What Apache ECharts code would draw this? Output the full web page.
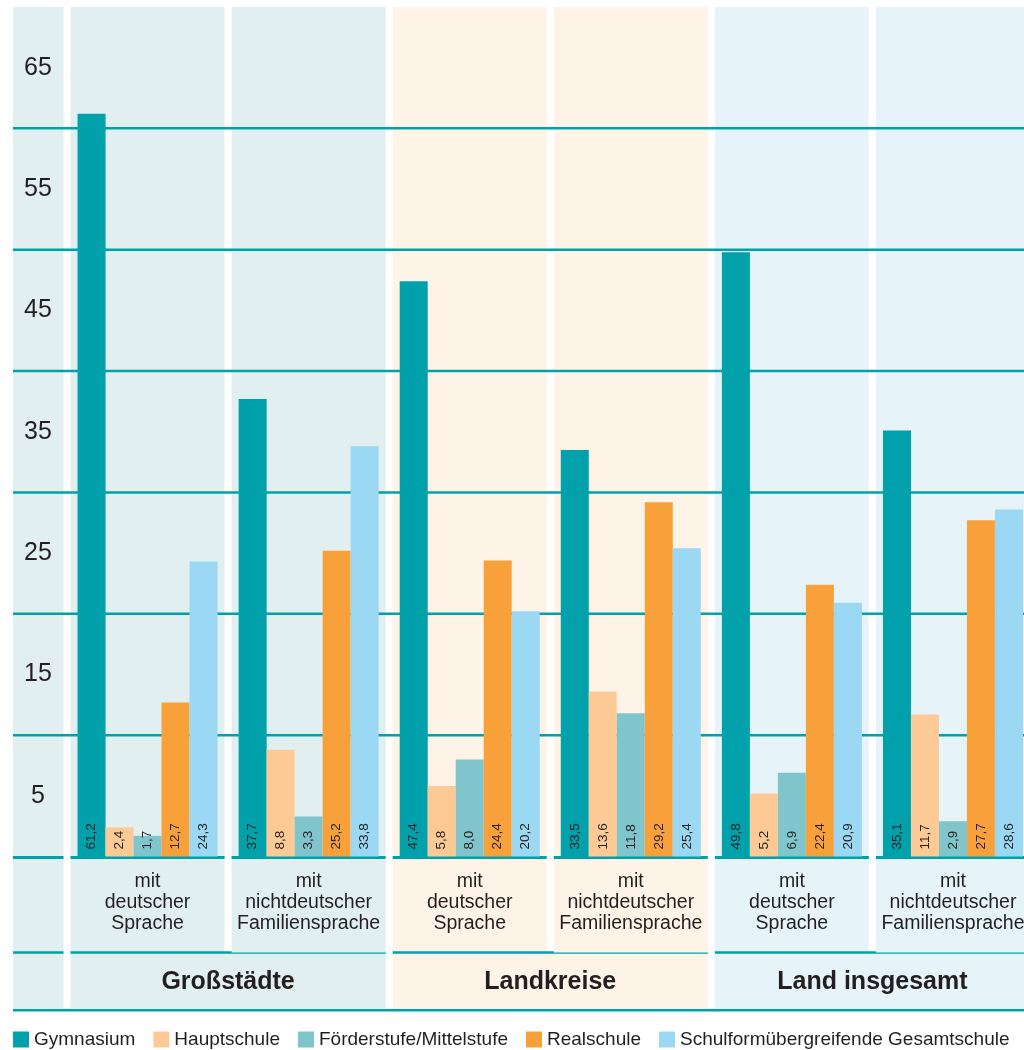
<!DOCTYPE html>
<html><head><meta charset="utf-8">
<script src="https://cdn.jsdelivr.net/npm/echarts/dist/echarts.min.js"></script>
<style>html,body{margin:0;padding:0;background:#fff}#c{width:1024px;height:1050px}</style>
</head><body><div id="c"></div>
<script>
// ---- data ----
const categories = [
  'mit\ndeutscher\nSprache', 'mit\nnichtdeutscher\nFamiliensprache',
  'mit\ndeutscher\nSprache', 'mit\nnichtdeutscher\nFamiliensprache',
  'mit\ndeutscher\nSprache', 'mit\nnichtdeutscher\nFamiliensprache'
];
const regions = ['Großstädte', 'Landkreise', 'Land insgesamt'];
const seriesNames = ['Gymnasium', 'Hauptschule', 'Förderstufe/Mittelstufe', 'Realschule', 'Schulformübergreifende Gesamtschule'];
const gymnasium    = [61.2, 37.7, 47.4, 33.5, 49.8, 35.1];
const hauptschule  = [2.4, 8.8, 5.8, 13.6, 5.2, 11.7];
const foerderstufe = [1.7, 3.3, 8.0, 11.8, 6.9, 2.9];
const realschule   = [12.7, 25.2, 24.4, 29.2, 22.4, 27.7];
const gesamtschule = [24.3, 33.8, 20.2, 25.4, 20.9, 28.6];
const yTickLabels = [5, 15, 25, 35, 45, 55, 65];
const gridValues = [10, 20, 30, 40, 50, 60];
const yMax = 70;

// ---- styles ----
const colors = ['#00a1aa', '#fdca96', '#80c5cc', '#f8a13b', '#9ad8f4'];
const regionColors = ['#e2eff0', '#fdf3e7', '#e6f4fa'];
const lineColor = '#00a2aa';
const textColor = '#231f20';
const FONT = "'Liberation Sans', Arial, Helvetica, sans-serif";
const GAP = 7;

function renderBg(params, api) {
  const i = api.value(0);
  const base = api.coord([i, 0]);
  const top = api.coord([i, yMax])[1];
  const band = api.size([1, 0])[0];
  const x0 = base[0] - band / 2 + GAP / 2;
  const w = band - GAP;
  const y0 = base[1];
  const catBottom = y0 + 96;
  const regBottom = y0 + 152.5;
  const children = [];
  const fill = regionColors[Math.floor(i / 2)];
  if (i === 0) {
    const lx = 13, lw = x0 - GAP - lx;
    children.push({type: 'rect', shape: {x: lx, y: top, width: lw, height: regBottom - top}, style: {fill: regionColors[0]}});
    children.push({type: 'rect', shape: {x: lx, y: y0 - 0.5, width: lw, height: 3}, style: {fill: lineColor}});
    children.push({type: 'rect', shape: {x: lx, y: catBottom - 1.2, width: lw, height: 2.4}, style: {fill: lineColor}});
    children.push({type: 'rect', shape: {x: lx, y: regBottom, width: api.getWidth() - lx, height: 2.4}, style: {fill: lineColor}});
  }
  children.push({type: 'rect', shape: {x: x0, y: top, width: w, height: catBottom - top}, style: {fill: fill}});
  children.push({type: 'rect', shape: {x: x0, y: y0 - 0.5, width: w, height: 3}, style: {fill: lineColor}});
  if (i % 2 === 0) {
    const rw = 2 * band - GAP;
    children.push({type: 'rect', shape: {x: x0, y: catBottom, width: rw, height: regBottom - catBottom}, style: {fill: fill}});
    children.push({type: 'rect', shape: {x: x0, y: catBottom - 1.2, width: rw, height: 2.4}, style: {fill: lineColor}});
    children.push({type: 'text', x: x0 + rw / 2, y: (catBottom + regBottom) / 2 + 1,
      style: {text: regions[i / 2], fill: textColor, font: 'bold 25px ' + FONT, align: 'center', verticalAlign: 'middle'}});
  }
  return {type: 'group', children: children};
}

function renderGrid(params, api) {
  const y = api.coord([0, api.value(1)])[1];
  return {type: 'rect', shape: {x: 13, y: y - 1.25, width: api.getWidth() - 13, height: 2.5}, style: {fill: lineColor}};
}

const valueLists = [gymnasium, hauptschule, foerderstufe, realschule, gesamtschule];
const barSeries = seriesNames.map((name, k) => ({
  name: name, type: 'bar', z: 5,
  barWidth: 28, barGap: '0%',
  itemStyle: {color: colors[k]},
  label: {
    show: true, position: 'insideBottom', rotate: 90, align: 'left', verticalAlign: 'middle',
    distance: 7, fontSize: 13.5, color: textColor, fontFamily: FONT,
    formatter: p => p.value.toFixed(1).replace('.', ',')
  },
  data: valueLists[k]
}));

const chart = echarts.init(document.getElementById('c'), null, {renderer: 'canvas'});
chart.setOption({
  animation: false,
  backgroundColor: '#ffffff',
  textStyle: {fontFamily: FONT},
  grid: {left: 67, right: -9.5, top: 7, bottom: 193.5, outerBoundsMode: 'none', containLabel: false},
  xAxis: {
    type: 'category', data: categories, z: 10,
    axisLine: {show: false}, axisTick: {show: false},
    axisLabel: {interval: 0, fontSize: 19.5, lineHeight: 21, color: textColor, margin: 15, fontFamily: FONT}
  },
  yAxis: {
    type: 'value', min: 0, max: yMax, interval: 5, z: 10,
    axisLine: {show: false}, axisTick: {show: false}, splitLine: {show: false},
    axisLabel: {fontSize: 25, color: textColor, align: 'center', margin: 29, fontFamily: FONT,
      formatter: v => yTickLabels.includes(v) ? String(v) : ''}
  },
  legend: {
    data: seriesNames, left: 13, top: 1030, padding: 0, icon: 'rect', itemWidth: 16, itemHeight: 16, itemGap: 18,
    textStyle: {fontSize: 19, color: textColor, fontFamily: FONT}, selectedMode: false
  },
  series: [
    {type: 'custom', z: 1, silent: true, clip: false, renderItem: renderBg,
      encode: {x: 0, y: 1}, data: categories.map((c, i) => [i, 0])},
    {type: 'custom', z: 2, silent: true, clip: false, renderItem: renderGrid,
      encode: {x: 0, y: 1}, data: gridValues.map(v => [0, v])}
  ].concat(barSeries)
});
</script></body></html>
